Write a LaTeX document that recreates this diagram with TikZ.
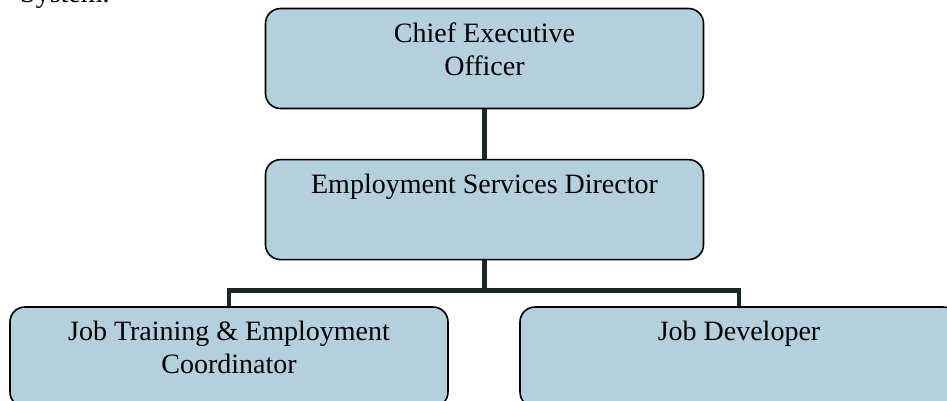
\documentclass[tikz,border=0pt]{standalone}
\usepackage{fontspec}
\setmainfont{Liberation Serif}
\usetikzlibrary{positioning}
\definecolor{boxblue}{RGB}{180,207,221}
\definecolor{tiedark}{RGB}{28,38,36}

\begin{document}
\begin{tikzpicture}[
  x=1pt, y=-1pt,
  node distance = 50pt and 72pt,
  every node/.style = {align=center, inner sep=0pt, font=\fontsize{28}{33}\selectfont},
  orgbox/.style = {draw=black, line width=1.6pt, fill=boxblue, rounded corners=15pt,
                   minimum width=438pt, minimum height=100pt},
  tie/.style = {draw=tiedark, line width=4.5pt}
]
  \useasboundingbox (0,0) rectangle (947,400);
  \clip (0,0) rectangle (947,400);
  \node[anchor=base west] (sys) at (20,2) {System.};
  % boxes
  \node[orgbox] (ceo) at (484.5,58.5) {};
  \node[orgbox, below = 49.5pt of ceo] (dir) {};
  \node[orgbox] (jtc) at (229,357) {};
  \node[orgbox] (jd) at (739,357) {};
  % texts
  \node[below = 15pt of ceo.north] (ceotxt) {Chief Executive\\Officer};
  \node[below = 15pt of dir.north] (dirtxt) {Employment Services Director};
  \node[below = 15pt of jtc.north] (jtctxt) {Job Training \& Employment\\Coordinator};
  \node[below = 15pt of jd.north] (jdtxt) {Job Developer};
  % ties
  \draw[tie] (ceo) -- (dir);
  \draw[tie] (dir.south) -- ++(0,30) coordinate (split) -| (jtc.north);
  \draw[tie] (split) -| (jd.north);
\end{tikzpicture}
\end{document}
